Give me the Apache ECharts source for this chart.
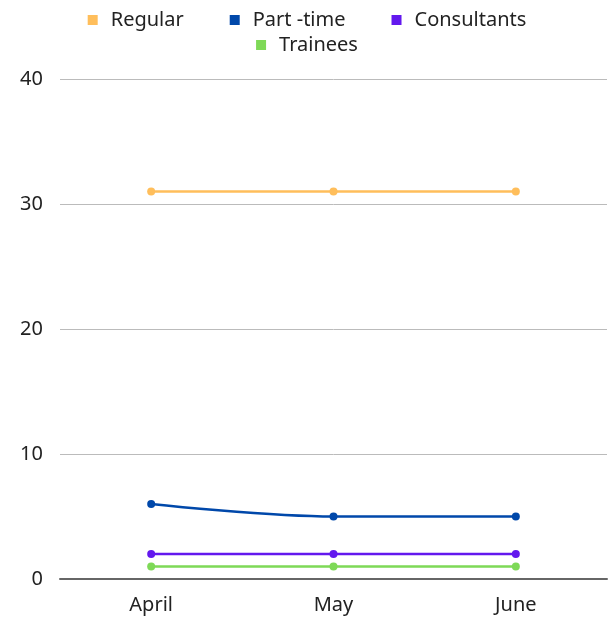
<!DOCTYPE html>
<html><head><meta charset="utf-8">
<script src="https://cdn.jsdelivr.net/npm/echarts@6/dist/echarts.min.js"></script>
<style>html,body{margin:0;padding:0;background:#fff}#c{width:614px;height:620px}</style>
</head><body><div id="c"></div>
<script>
const categories = ['April', 'May', 'June'];
const regular = [31, 31, 31];
const partTime = [6, 5, 5];
const consultants = [2, 2, 2];
const trainees = [1, 1, 1];
const seriesNames = ['Regular', 'Part -time', 'Consultants', 'Trainees'];
const colors = ['#FFBE5B', '#0048AA', '#6318EE', '#7ED957'];
const font = 'Noto Sans';
const chart = echarts.init(document.getElementById('c'));
const mk = (name, data, color, smooth) => ({
  name, type: 'line', data, smooth, symbol: 'circle', symbolSize: 8,
  lineStyle: { width: 2.5, color }, itemStyle: { color }
});
const legendBase = {
  left: 'center', itemWidth: 10, itemHeight: 10, itemGap: 46, icon: 'rect', padding: 0,
  textStyle: { fontFamily: font, fontSize: 20, color: '#222', padding: [0, 0, 0, 8] }
};
chart.setOption({
  animation: false,
  color: colors,
  legend: [
    Object.assign({}, legendBase, { top: 10, data: seriesNames.slice(0, 3) }),
    Object.assign({}, legendBase, { top: 35, data: seriesNames.slice(3) })
  ],
  grid: { left: 60, right: 7, top: 79, bottom: 41, containLabel: false },
  xAxis: {
    type: 'category', data: categories, boundaryGap: true,
    axisLine: { lineStyle: { color: '#666', width: 2 } },
    axisTick: { show: false },
    axisLabel: { fontFamily: font, fontSize: 20, color: '#222', margin: 16 }
  },
  yAxis: {
    type: 'value', min: 0, max: 40, interval: 10,
    axisLine: { show: false }, axisTick: { show: false },
    splitLine: { lineStyle: { color: '#bbb', width: 1 } },
    axisLabel: { fontFamily: font, fontSize: 20, color: '#222', margin: 17 }
  },
  series: [
    mk(seriesNames[0], regular, colors[0], false),
    mk(seriesNames[1], partTime, colors[1], 0.35),
    mk(seriesNames[2], consultants, colors[2], false),
    mk(seriesNames[3], trainees, colors[3], false)
  ]
});
</script></body></html>
